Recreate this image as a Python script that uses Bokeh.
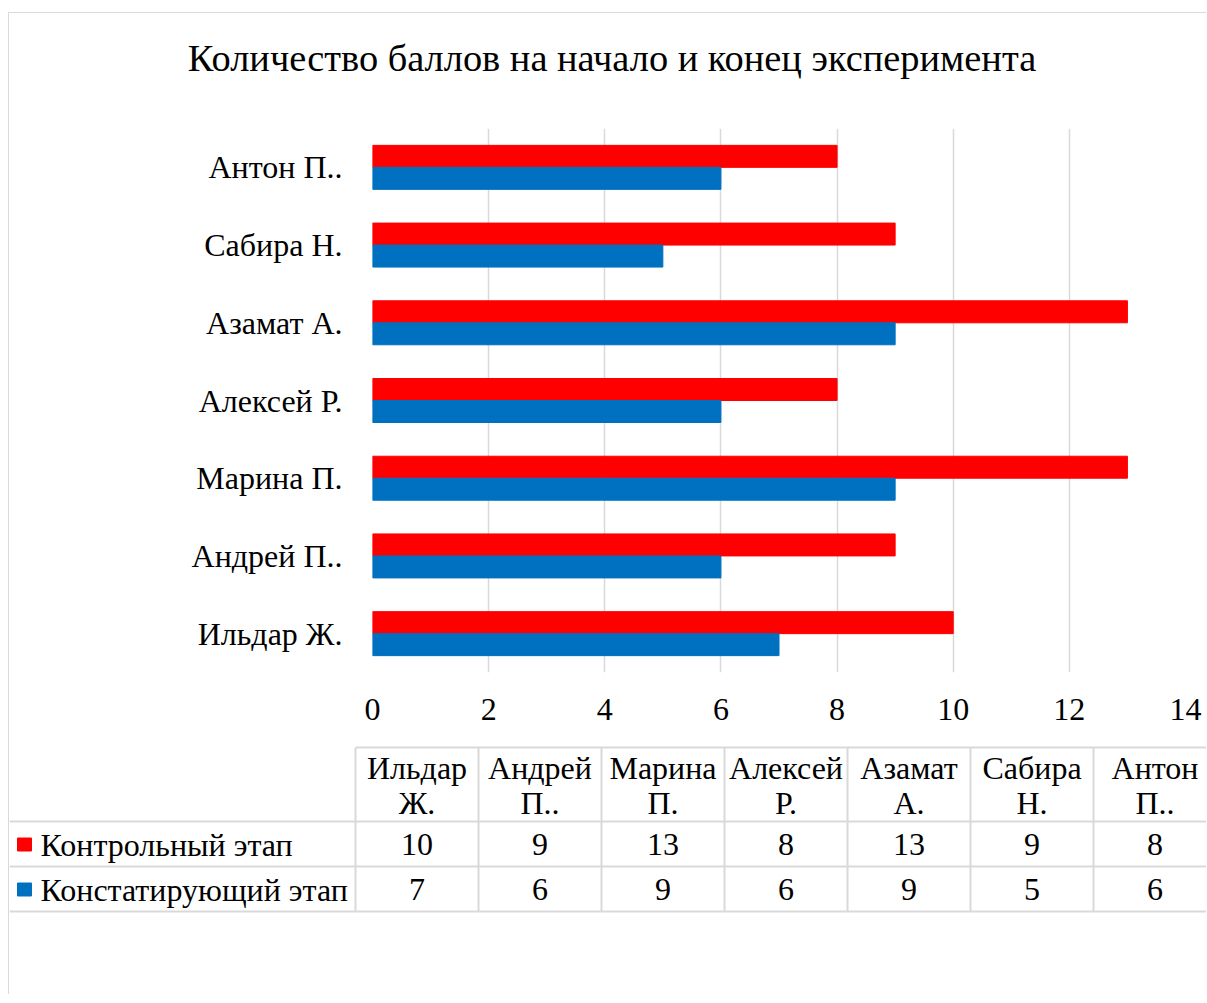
from bokeh.plotting import figure
from bokeh.models import FactorRange, Range1d, ColumnDataSource, FixedTicker
from bokeh.transform import dodge
from bokeh.core.properties import value
from bokeh.embed import file_html
from bokeh.resources import INLINE

# ---- data ----
names = ["Ильдар Ж.", "Андрей П..", "Марина П.", "Алексей Р.", "Азамат А.", "Сабира Н.", "Антон П.."]
control = [10, 9, 13, 8, 13, 9, 8]
baseline = [7, 6, 9, 6, 9, 5, 6]
series_names = ["Контрольный этап", "Констатирующий этап"]
x_ticks = [0, 2, 4, 6, 8, 10, 12, 14]
title_text = "Количество баллов на начало и конец эксперимента"

FONT = "Liberation Serif"
RED = "#ff0000"
BLUE = "#0070c0"
GRID = "#d9d9d9"
BORDER = "1px solid #d9d9d9"
W = 1198
X0 = 9
RIGHT = X0 + W


def blank(height, y_top, y_bottom, **kw):
    f = figure(width=W, height=height, x_range=Range1d(X0, RIGHT), y_range=Range1d(y_bottom, y_top),
               output_backend="svg", toolbar_location=None, min_border=0,
               x_axis_location=None, y_axis_location=None, **kw)
    f.grid.visible = False
    f.outline_line_color = None
    f.title.visible = False
    return f


# ---- title strip (page pixel coordinates) ----
head = blank(116, 13, 129, margin=(12, 0, 0, 8), styles={"border-left": BORDER, "border-top": BORDER})
head.text(x=[611.5], y=[57], text=[title_text], text_font=value(FONT), text_font_size="38.4px",
          text_align="center", text_baseline="middle", text_color="#000000")

# ---- bar chart ----
src = ColumnDataSource(dict(name=names, control=control, baseline=baseline))

p = figure(width=W, height=616, y_range=FactorRange(factors=names), x_range=Range1d(0, 14),
           output_backend="svg", toolbar_location=None,
           min_border_left=363, min_border_right=22, min_border_top=0, min_border_bottom=72,
           margin=(0, 0, 0, 8), styles={"border-left": BORDER})
p.title.visible = False
p.y_range.range_padding = 0
p.hbar(y=dodge("name", 0.1415, range=p.y_range), left=0, right="control", height=0.283,
       source=src, color=RED)
p.hbar(y=dodge("name", -0.1415, range=p.y_range), left=0, right="baseline", height=0.283,
       source=src, color=BLUE)

p.xaxis.ticker = FixedTicker(ticks=x_ticks)
for ax in (p.xaxis, p.yaxis):
    ax.axis_line_color = None
    ax.major_tick_line_color = None
    ax.minor_tick_line_color = None
    ax.major_label_text_font = FONT
    ax.major_label_text_font_size = "32px"
    ax.major_label_text_color = "#000000"
p.xaxis.major_label_standoff = 20
p.yaxis.major_label_standoff = 24
p.xgrid.ticker = FixedTicker(ticks=x_ticks)
p.xgrid.grid_line_color = GRID
p.xgrid.grid_line_width = 1.5
p.ygrid.grid_line_color = None
p.outline_line_color = None

# ---- data table below (page pixel coordinates) ----
t = blank(250, 745, 995, margin=(0, 0, 0, 8), styles={"border-left": BORDER})

col_w = 123
col_x0 = 355
n = len(names)
t.segment(x0=[col_x0], y0=[748], x1=[RIGHT], y1=[748], line_color=GRID, line_width=2)
vx = [col_x0 + col_w * i for i in range(n + 1)]
t.segment(x0=vx, y0=[748] * len(vx), x1=vx, y1=[912] * len(vx), line_color=GRID, line_width=2)
hy = [822, 867, 912]
t.segment(x0=[X0] * 3, y0=hy, x1=[RIGHT] * 3, y1=hy, line_color=GRID, line_width=2)

cx = [col_x0 + col_w * (i + 0.5) for i in range(n)]
first = [nm.split(" ", 1)[0] for nm in names]
second = [nm.split(" ", 1)[1] for nm in names]
common = dict(text_font=value(FONT), text_font_size="32px", text_align="center",
              text_baseline="middle", text_color="#000000")
t.text(x=cx, y=[768] * n, text=first, **common)
t.text(x=cx, y=[803] * n, text=second, **common)
t.text(x=cx, y=[845] * n, text=[str(v) for v in control], **common)
t.text(x=cx, y=[890] * n, text=[str(v) for v in baseline], **common)

t.rect(x=[24, 24], y=[845, 890], width=14, height=13, color=[RED, BLUE])
t.text(x=[40, 40], y=[845, 890], text=series_names, text_font=value(FONT), text_font_size="32px",
       text_align="left", text_baseline="middle", text_color="#000000")

open("out.html", "w").write(file_html([head, p, t], INLINE))
